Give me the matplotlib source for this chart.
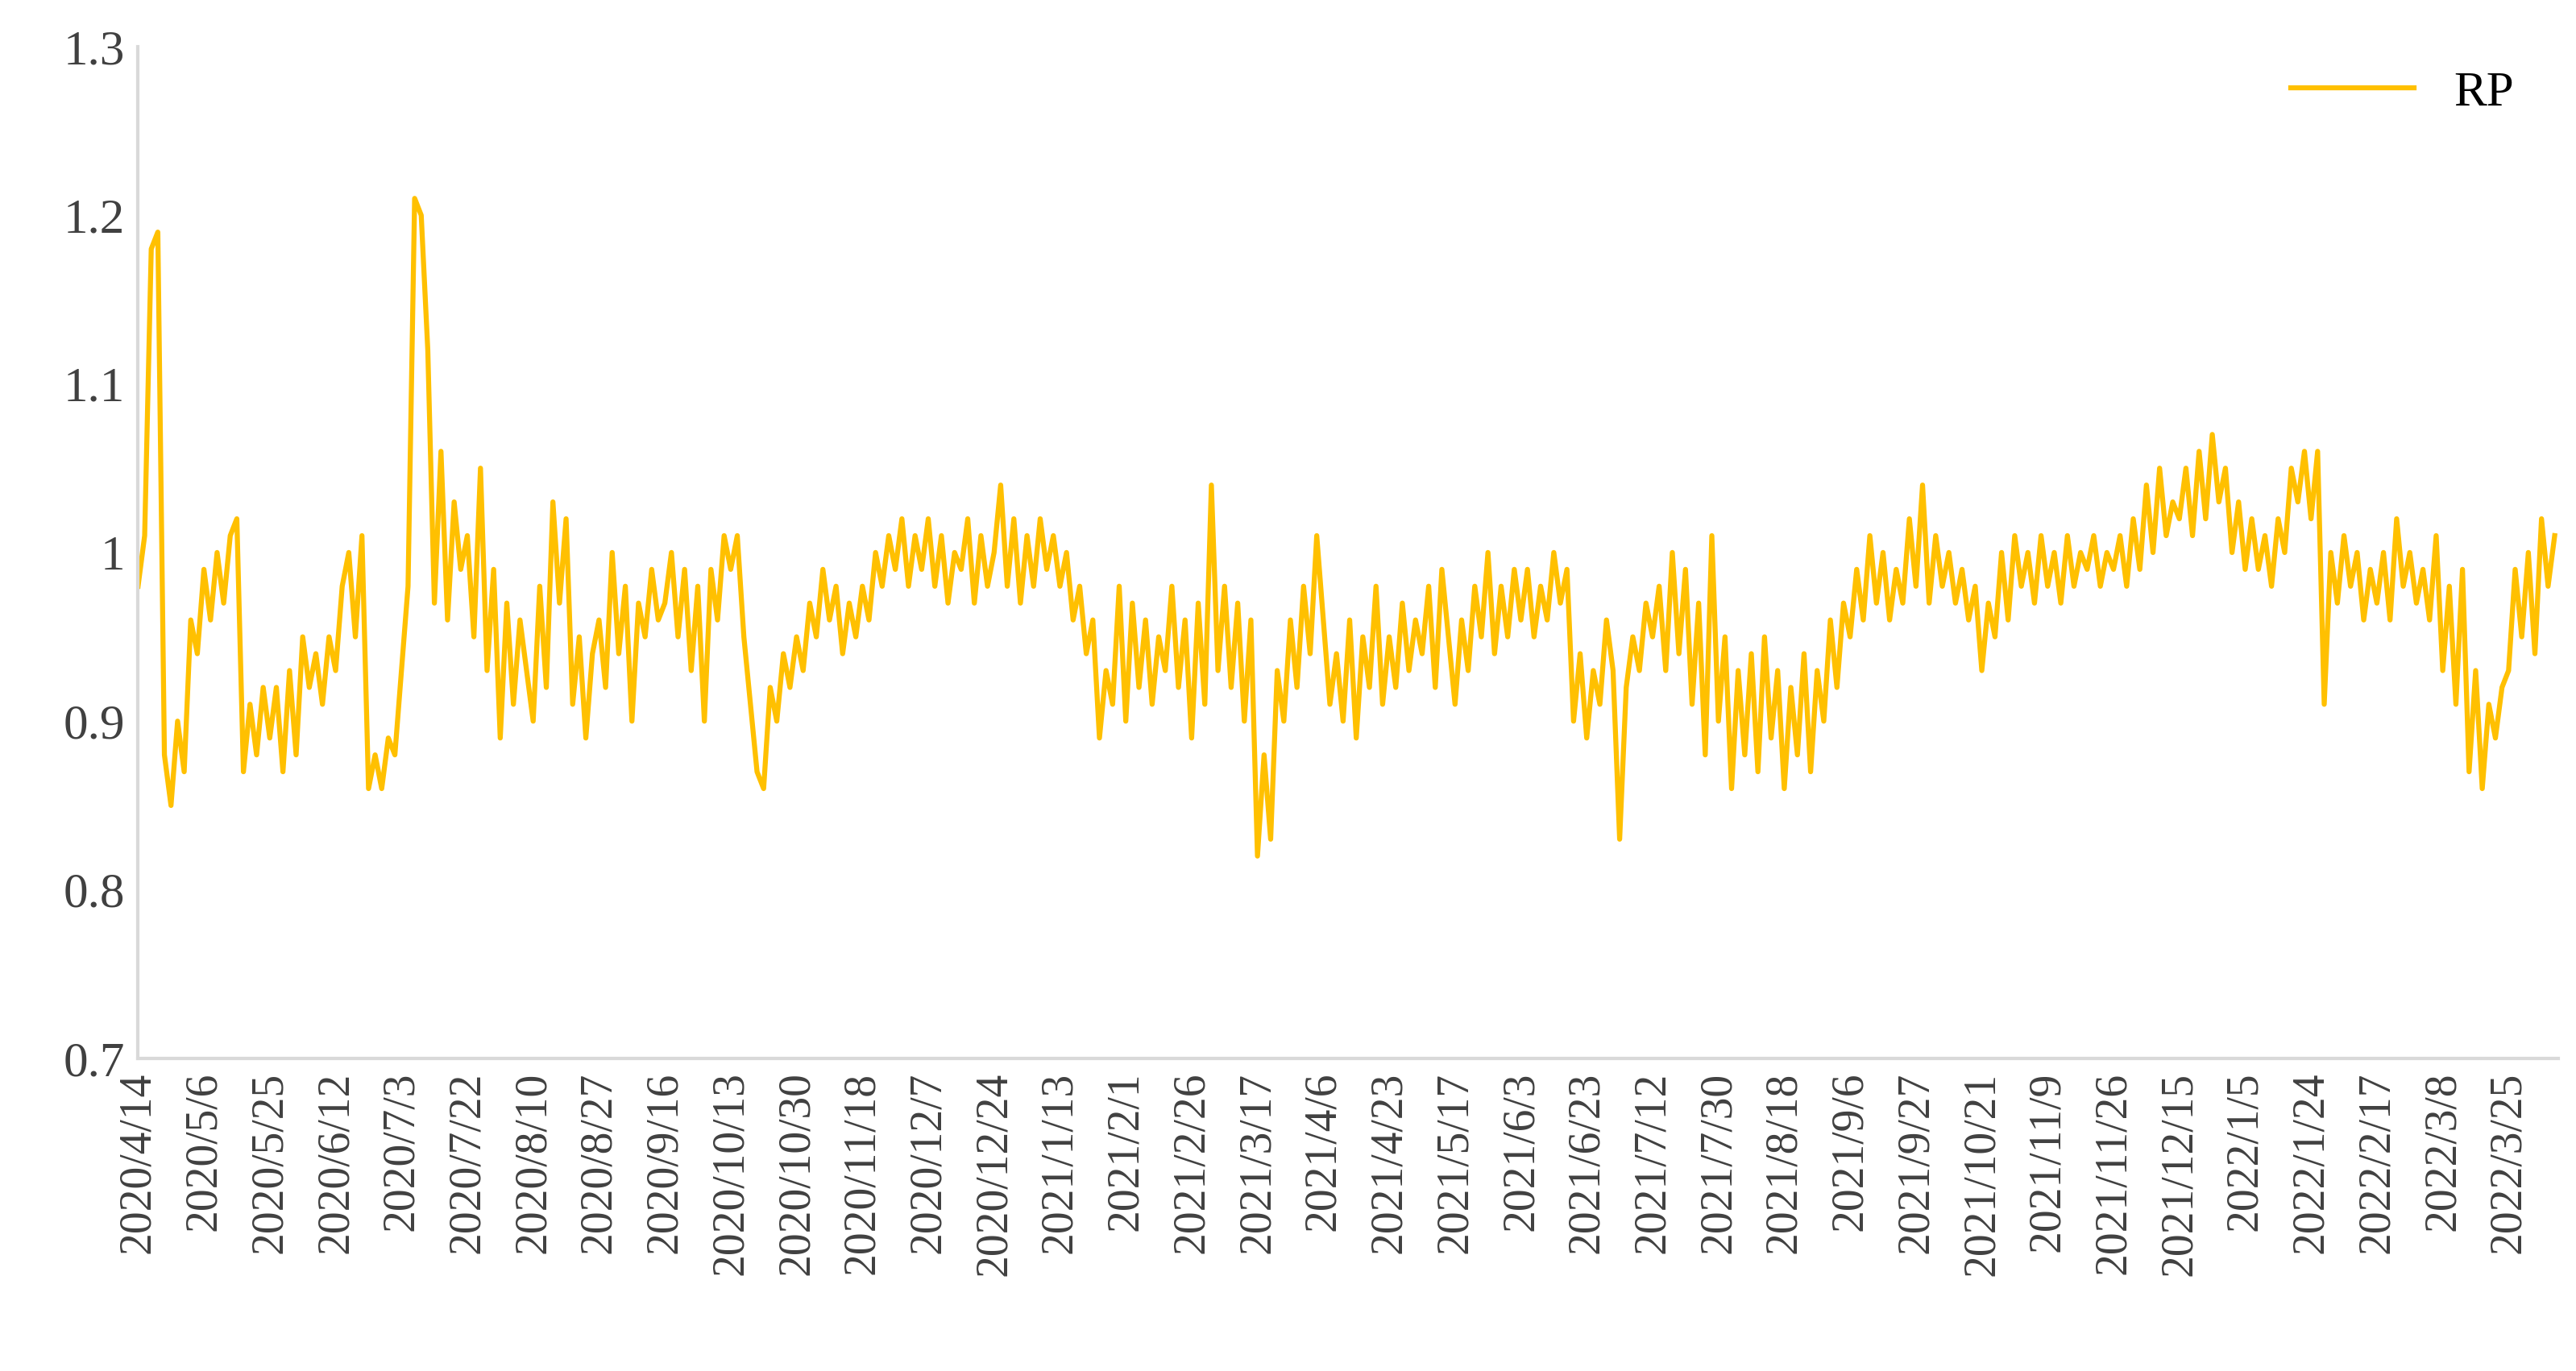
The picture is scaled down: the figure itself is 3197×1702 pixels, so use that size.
import matplotlib
matplotlib.use("Agg")
from matplotlib import pyplot as plt
import numpy as np

plt.rcParams['font.family'] = ['Liberation Serif', 'DejaVu Serif']

tick_labels = ['2020/4/14', '2020/5/6', '2020/5/25', '2020/6/12', '2020/7/3', '2020/7/22',
               '2020/8/10', '2020/8/27', '2020/9/16', '2020/10/13', '2020/10/30', '2020/11/18',
               '2020/12/7', '2020/12/24', '2021/1/13', '2021/2/1', '2021/2/26', '2021/3/17',
               '2021/4/6', '2021/4/23', '2021/5/17', '2021/6/3', '2021/6/23', '2021/7/12',
               '2021/7/30', '2021/8/18', '2021/9/6', '2021/9/27', '2021/10/21', '2021/11/9',
               '2021/11/26', '2021/12/15', '2022/1/5', '2022/1/24', '2022/2/17', '2022/3/8',
               '2022/3/25']

# RP values, 10 readings per tick interval (last one partial)
rp = [
    0.98, 1.01, 1.18, 1.19, 0.88, 0.85, 0.90, 0.87, 0.96, 0.94,
    0.99, 0.96, 1.00, 0.97, 1.01, 1.02, 0.87, 0.91, 0.88, 0.92,
    0.89, 0.92, 0.87, 0.93, 0.88, 0.95, 0.92, 0.94, 0.91, 0.95,
    0.93, 0.98, 1.00, 0.95, 1.01, 0.86, 0.88, 0.86, 0.89, 0.88,
    0.93, 0.98, 1.21, 1.20, 1.12, 0.97, 1.06, 0.96, 1.03, 0.99,
    1.01, 0.95, 1.05, 0.93, 0.99, 0.89, 0.97, 0.91, 0.96, 0.93,
    0.90, 0.98, 0.92, 1.03, 0.97, 1.02, 0.91, 0.95, 0.89, 0.94,
    0.96, 0.92, 1.00, 0.94, 0.98, 0.90, 0.97, 0.95, 0.99, 0.96,
    0.97, 1.00, 0.95, 0.99, 0.93, 0.98, 0.90, 0.99, 0.96, 1.01,
    0.99, 1.01, 0.95, 0.91, 0.87, 0.86, 0.92, 0.90, 0.94, 0.92,
    0.95, 0.93, 0.97, 0.95, 0.99, 0.96, 0.98, 0.94, 0.97, 0.95,
    0.98, 0.96, 1.00, 0.98, 1.01, 0.99, 1.02, 0.98, 1.01, 0.99,
    1.02, 0.98, 1.01, 0.97, 1.00, 0.99, 1.02, 0.97, 1.01, 0.98,
    1.00, 1.04, 0.98, 1.02, 0.97, 1.01, 0.98, 1.02, 0.99, 1.01,
    0.98, 1.00, 0.96, 0.98, 0.94, 0.96, 0.89, 0.93, 0.91, 0.98,
    0.90, 0.97, 0.92, 0.96, 0.91, 0.95, 0.93, 0.98, 0.92, 0.96,
    0.89, 0.97, 0.91, 1.04, 0.93, 0.98, 0.92, 0.97, 0.90, 0.96,
    0.82, 0.88, 0.83, 0.93, 0.90, 0.96, 0.92, 0.98, 0.94, 1.01,
    0.96, 0.91, 0.94, 0.90, 0.96, 0.89, 0.95, 0.92, 0.98, 0.91,
    0.95, 0.92, 0.97, 0.93, 0.96, 0.94, 0.98, 0.92, 0.99, 0.95,
    0.91, 0.96, 0.93, 0.98, 0.95, 1.00, 0.94, 0.98, 0.95, 0.99,
    0.96, 0.99, 0.95, 0.98, 0.96, 1.00, 0.97, 0.99, 0.90, 0.94,
    0.89, 0.93, 0.91, 0.96, 0.93, 0.83, 0.92, 0.95, 0.93, 0.97,
    0.95, 0.98, 0.93, 1.00, 0.94, 0.99, 0.91, 0.97, 0.88, 1.01,
    0.90, 0.95, 0.86, 0.93, 0.88, 0.94, 0.87, 0.95, 0.89, 0.93,
    0.86, 0.92, 0.88, 0.94, 0.87, 0.93, 0.90, 0.96, 0.92, 0.97,
    0.95, 0.99, 0.96, 1.01, 0.97, 1.00, 0.96, 0.99, 0.97, 1.02,
    0.98, 1.04, 0.97, 1.01, 0.98, 1.00, 0.97, 0.99, 0.96, 0.98,
    0.93, 0.97, 0.95, 1.00, 0.96, 1.01, 0.98, 1.00, 0.97, 1.01,
    0.98, 1.00, 0.97, 1.01, 0.98, 1.00, 0.99, 1.01, 0.98, 1.00,
    0.99, 1.01, 0.98, 1.02, 0.99, 1.04, 1.00, 1.05, 1.01, 1.03,
    1.02, 1.05, 1.01, 1.06, 1.02, 1.07, 1.03, 1.05, 1.00, 1.03,
    0.99, 1.02, 0.99, 1.01, 0.98, 1.02, 1.00, 1.05, 1.03, 1.06,
    1.02, 1.06, 0.91, 1.00, 0.97, 1.01, 0.98, 1.00, 0.96, 0.99,
    0.97, 1.00, 0.96, 1.02, 0.98, 1.00, 0.97, 0.99, 0.96, 1.01,
    0.93, 0.98, 0.91, 0.99, 0.87, 0.93, 0.86, 0.91, 0.89, 0.92,
    0.93, 0.99, 0.95, 1.00, 0.94, 1.02, 0.98, 1.01,
]

per_tick = 10
x = np.arange(len(rp)) / per_tick

fig = plt.figure(figsize=(31.97, 17.02), dpi=100)
ax = fig.add_axes([0.0536, 0.228, 0.9394, 0.738])
ax.plot(x, rp, color='#FFC000', lw=4.5, label='RP')

ax.set_xlim(0, x[-1] + 0.05)
ax.set_ylim(0.7, 1.3)
ax.set_yticks([0.7, 0.8, 0.9, 1.0, 1.1, 1.2, 1.3])
ax.set_yticklabels(['0.7', '0.8', '0.9', '1', '1.1', '1.2', '1.3'], fontsize=44, color='#404040')
ax.set_xticks(np.arange(len(tick_labels)))
ax.set_xticklabels(tick_labels, rotation=90, fontsize=40, color='#404040')
ax.tick_params(axis='both', length=0, pad=12)
for s in ['top', 'right']:
    ax.spines[s].set_visible(False)
for s in ['left', 'bottom']:
    ax.spines[s].set_color('#D9D9D9')
    ax.spines[s].set_linewidth(3)

ax.legend(loc='upper right', frameon=False, fontsize=44, handlelength=2.5,
          bbox_to_anchor=(1.0, 1.02))

fig.savefig('out.png', dpi=100)
